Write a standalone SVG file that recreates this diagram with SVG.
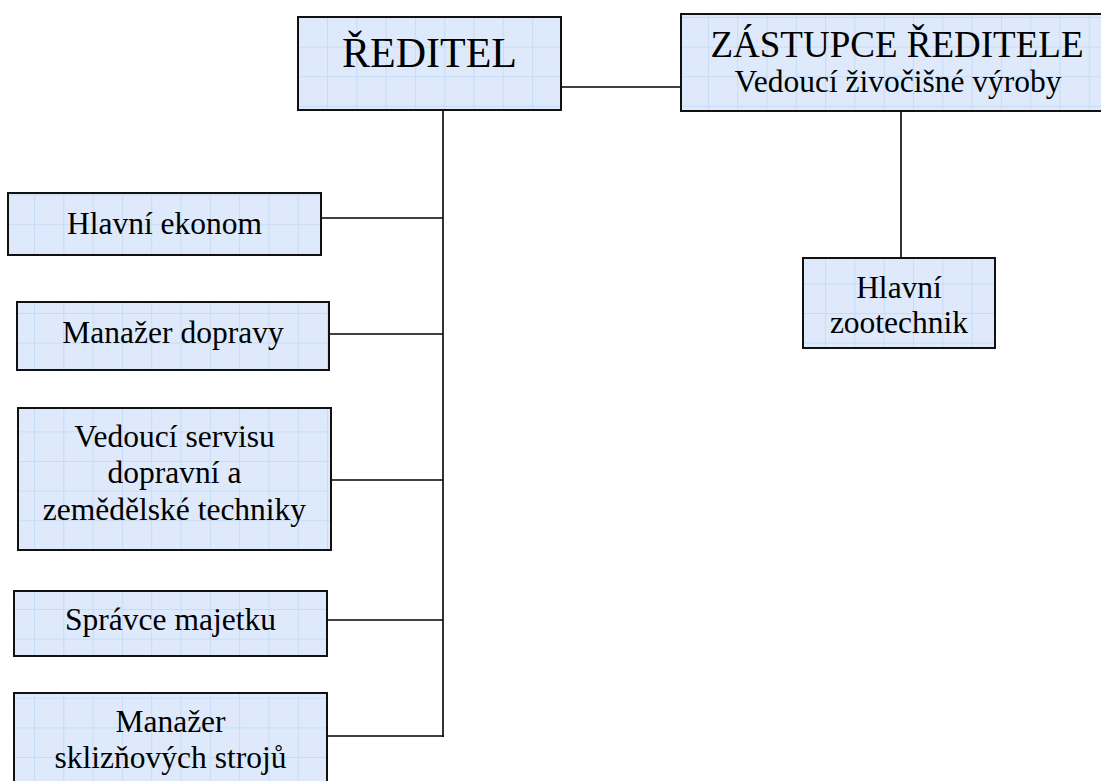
<svg xmlns="http://www.w3.org/2000/svg" width="1101" height="781" viewBox="0 0 1101 781">
  <defs>
    <pattern id="grid" patternUnits="userSpaceOnUse" x="4.7" y="17" width="29.3" height="29.6">
      <rect width="29.3" height="29.6" fill="#deeafb"/>
      <path d="M0 0.5 H29.3 M0.5 0 V29.6" stroke="#c6dcf6" stroke-width="1" fill="none"/>
    </pattern>
  </defs>
  <style>
    .box { fill: url(#grid); stroke: #111; stroke-width: 2; }
    .t { font-family: "Liberation Serif", "Times New Roman", serif; fill: #000; text-anchor: middle; }
    .conn { stroke: #000; stroke-width: 1.6; fill: none; }
  </style>
  <rect width="1101" height="781" fill="#fff"/>

  <g id="connectors">
    <line class="conn" x1="561" y1="87" x2="681" y2="87"/>
    <line class="conn" x1="443" y1="110" x2="443" y2="737"/>
    <line class="conn" x1="321" y1="218" x2="443" y2="218"/>
    <line class="conn" x1="329" y1="334" x2="443" y2="334"/>
    <line class="conn" x1="331" y1="480" x2="443" y2="480"/>
    <line class="conn" x1="327" y1="620" x2="443" y2="620"/>
    <line class="conn" x1="327" y1="736" x2="444" y2="736"/>
    <line class="conn" x1="901" y1="111" x2="901" y2="258"/>
  </g>

  <g id="reditel">
    <rect class="box" x="298" y="17" width="263" height="93"/>
    <text class="t" x="429.5" y="67" font-size="42">ŘEDITEL</text>
  </g>

  <g id="zastupce">
    <rect class="box" x="681" y="14" width="434" height="97"/>
    <text class="t" x="897" y="57" font-size="37">ZÁSTUPCE ŘEDITELE</text>
    <text class="t" x="898" y="92" font-size="31.5">Vedoucí živočišné výroby</text>
  </g>

  <g id="hlavni-ekonom">
    <rect class="box" x="8" y="193" width="313" height="62"/>
    <text class="t" x="164.5" y="234" font-size="31.5">Hlavní ekonom</text>
  </g>

  <g id="manazer-dopravy">
    <rect class="box" x="17" y="302" width="312" height="68"/>
    <text class="t" x="173" y="343" font-size="31.5">Manažer dopravy</text>
  </g>

  <g id="vedouci-servisu">
    <rect class="box" x="18" y="408" width="313" height="142"/>
    <text class="t" x="174.5" y="447" font-size="31.5">Vedoucí servisu</text>
    <text class="t" x="174.5" y="483" font-size="31.5">dopravní a</text>
    <text class="t" x="174.5" y="520" font-size="31.5">zemědělské techniky</text>
  </g>

  <g id="spravce-majetku">
    <rect class="box" x="14" y="591" width="313" height="65"/>
    <text class="t" x="170.5" y="630" font-size="31.5">Správce majetku</text>
  </g>

  <g id="manazer-sklizni">
    <rect class="box" x="14" y="693" width="313" height="100"/>
    <text class="t" x="170.5" y="732" font-size="31.5">Manažer</text>
    <text class="t" x="170.5" y="768" font-size="31.5">sklizňových strojů</text>
  </g>

  <g id="hlavni-zootechnik">
    <rect class="box" x="803" y="258" width="192" height="90"/>
    <text class="t" x="899" y="298" font-size="31.5">Hlavní</text>
    <text class="t" x="899" y="333" font-size="31.5">zootechnik</text>
  </g>
</svg>
